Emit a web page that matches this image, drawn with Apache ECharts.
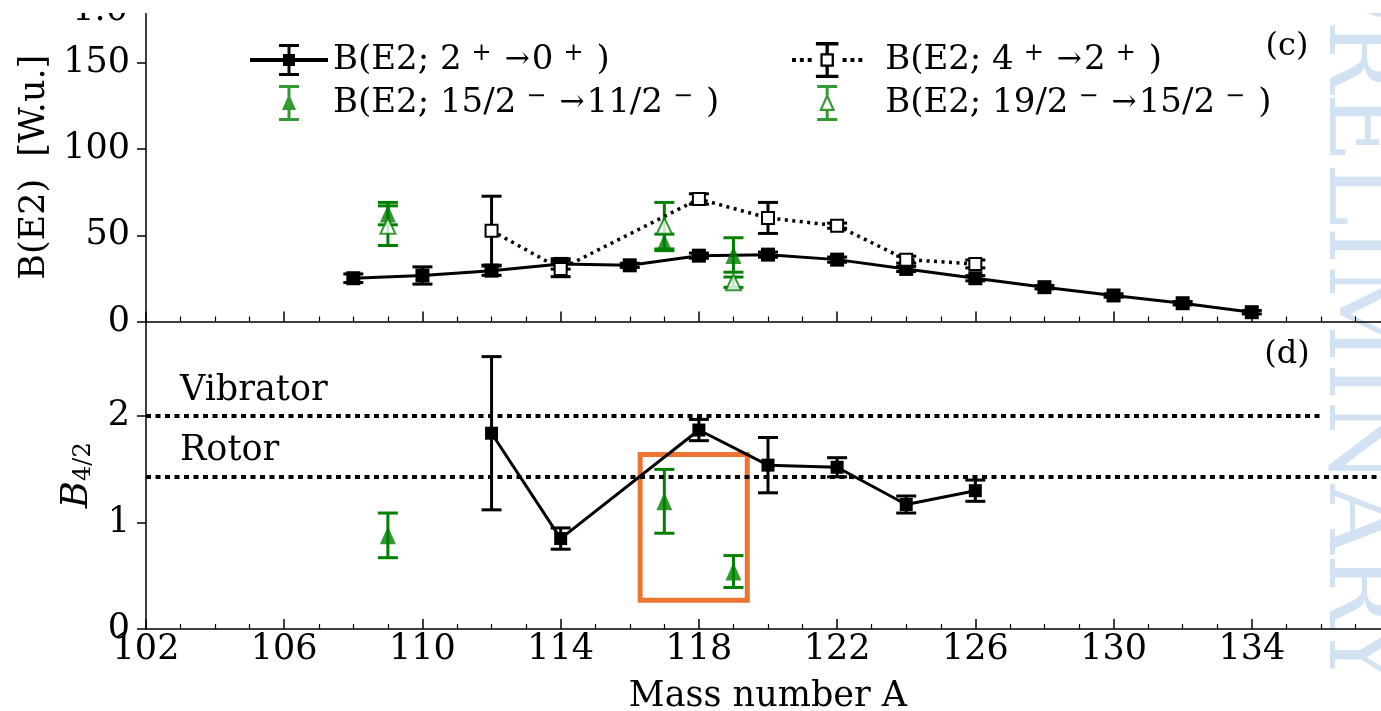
<!DOCTYPE html>
<html>
<head>
<meta charset="utf-8">
<title>B(E2) systematics</title>
<script src="https://cdn.jsdelivr.net/npm/echarts@6/dist/echarts.min.js"></script>
<style>
  html, body { margin: 0; padding: 0; background: #fff; }
  #chart { width: 1381px; height: 711px; }
</style>
</head>
<body>
<div id="chart"></div>
<script>
// mass numbers and values
var massEven = [108, 110, 112, 114, 116, 118, 120, 122, 124, 126, 128, 130, 132, 134];
var be2_2to0 = [25.1, 26.7, 29.5, 33.4, 32.6, 38.2, 38.8, 35.9, 30.5, 25.1, 19.9, 15.1, 10.6, 5.4];
var be2_2to0Err = [2.5, 5, 2.7, 3, 1.2, 1.5, 1.5, 1.5, 1.5, 1.5, 1, 1, 1, 1];

var massEven42 = [112, 114, 118, 120, 122, 124, 126];
var be2_4to2 = [52.7, 30.5, 71.1, 60.1, 55.6, 35.9, 33.4];
var be2_4to2Err = [20, 4.5, 3, 9, 1.5, 2, 2.3];

var massOdd = [109, 117, 119];
var be2_15to11 = [62.6, 45.9, 38.6];
var be2_15to11Err = [6.5, 4.8, 10];
var be2_19to15 = [55.6, 55.6, 22.8];
var be2_19to15Err = [11.5, 13.5, 3];

var b42Even = [1.84, 0.85, 1.87, 1.54, 1.52, 1.17, 1.30];
var b42EvenErr = [0.72, 0.1, 0.1, 0.26, 0.09, 0.08, 0.1];
var b42Odd = [0.88, 1.20, 0.54];
var b42OddErr = [0.21, 0.30, 0.15];

var vibrator = 2.0;
var rotor = 10 / 7;

var xTicks = { min: 102, max: 138, step: 4 };

var NAME_20 = 'B(E2; 2+ -> 0+)';
var NAME_42 = 'B(E2; 4+ -> 2+)';
var NAME_15 = 'B(E2; 15/2- -> 11/2-)';
var NAME_19 = 'B(E2; 19/2- -> 15/2-)';

var legendText = {};
legendText[NAME_20] = 'B(E2; 2{s|+}{a|→}0{s|+})';
legendText[NAME_42] = 'B(E2; 4{s|+}{a|→}2{s|+})';
legendText[NAME_15] = 'B(E2; 15/2{s|−}{a|→}11/2{s|−})';
legendText[NAME_19] = 'B(E2; 19/2{s|−}{a|→}15/2{s|−})';

var FONT = 'DejaVu Serif';
var GREEN = '#008000';
var FS = 35;

function pts(xs, ys) {
    return xs.map(function (x, i) { return [x, ys[i]]; });
}
function bars(xs, ys, es) {
    return xs.map(function (x, i) { return [x, ys[i] - es[i], ys[i] + es[i]]; });
}

function errorSeries(xs, ys, es, color, gi) {
    return {
        type: 'custom',
        xAxisIndex: gi, yAxisIndex: gi,
        z: 3,
        silent: true,
        data: bars(xs, ys, es),
        renderItem: function (params, api) {
            var lo = api.coord([api.value(0), api.value(1)]);
            var hi = api.coord([api.value(0), api.value(2)]);
            var st = { stroke: color, lineWidth: 3 };
            var hw = 10;
            return {
                type: 'group',
                children: [
                    { type: 'line', shape: { x1: lo[0], y1: lo[1], x2: hi[0], y2: hi[1] }, style: st },
                    { type: 'line', shape: { x1: lo[0] - hw, y1: lo[1], x2: lo[0] + hw, y2: lo[1] }, style: st },
                    { type: 'line', shape: { x1: hi[0] - hw, y1: hi[1], x2: hi[0] + hw, y2: hi[1] }, style: st }
                ]
            };
        }
    };
}

// legend icons built from filled pieces
function r(x, y, w, h) { return 'M' + x + ' ' + y + 'h' + w + 'v' + h + 'h' + (-w) + 'Z'; }
var iconSolid = 'path://' + r(0, 14, 78, 4) + r(37.5, 0, 3, 32) + r(29, 0, 20, 3) + r(29, 29, 20, 3) + r(33, 10, 12, 12);
var iconDotted = 'path://' + r(0, 14.25, 3.5, 3.5) + r(7, 14.25, 3.5, 3.5) + r(14, 14.25, 3.5, 3.5) +
    r(45, 14.25, 3.5, 3.5) + r(52, 14.25, 3.5, 3.5) + r(59, 14.25, 3.5, 3.5) +
    r(25.25, 10, 12, 2) + r(25.25, 20, 12, 2) + r(25.25, 10, 2, 12) + r(35.25, 10, 2, 12) +
    r(29.75, 0, 3, 10) + r(29.75, 22, 3, 10) + r(21.25, 0, 20, 3) + r(21.25, 29, 20, 3);
var iconTriFull = 'path://' + r(8.5, 0, 3, 36) + r(0, 0, 20, 3) + r(0, 33, 20, 3) + 'M10 9L17 25L3 25Z';
var iconTriOpen = 'path://' + r(8.5, 0, 3, 10) + r(8.5, 25, 3, 11) + r(0, 0, 20, 3) + r(0, 33, 20, 3) +
    'M10 8L18 26L2 26Z' + 'M10 13.5L5.3 23.8L14.7 23.8Z';

var legendRich = {
    s: { fontSize: 24, fontFamily: FONT, color: '#000', verticalAlign: 'top', lineHeight: 22, padding: [0, 13, 0, 10] },
    a: { fontSize: 30, fontFamily: FONT, color: '#000', padding: [0, 2, 0, 0] },
    g: { width: 14 }
};

function legendBase(left, prefix) {
    return {
        orient: 'vertical',
        left: left,
        top: 37,
        itemWidth: 78,
        itemHeight: 36,
        itemGap: 7,
        selectedMode: false,
        textStyle: { fontFamily: FONT, fontSize: 34, color: '#000', lineHeight: 36, rich: legendRich },
        formatter: function (name) { return prefix + legendText[name]; }
    };
}

var legendLeft = legendBase(245, '');
legendLeft.data = [
    { name: NAME_20, icon: iconSolid, itemStyle: { color: '#000', borderWidth: 0 } },
    { name: NAME_15, icon: iconTriFull, itemStyle: { color: GREEN, borderWidth: 0 } }
];
var legendRight = legendBase(787, '{g| }');
legendRight.data = [
    { name: NAME_42, icon: iconDotted, itemStyle: { color: '#000', borderWidth: 0 } },
    { name: NAME_19, icon: iconTriOpen, itemStyle: { color: GREEN, borderWidth: 0 } }
];

function xAxis(gi, labels) {
    return {
        type: 'value', gridIndex: gi,
        min: xTicks.min, max: xTicks.max, interval: xTicks.step,
        axisLine: { show: true, onZero: false, lineStyle: { color: '#000', width: 1.5 } },
        axisTick: { show: true, inside: true, length: 10, lineStyle: { color: '#000', width: 1.5 } },
        minorTick: { show: true, splitNumber: 4, length: 5, lineStyle: { color: '#000', width: 1.2 } },
        splitLine: { show: false },
        axisLabel: {
            show: labels, margin: 3, fontSize: FS, fontFamily: FONT, color: '#000',
            showMaxLabel: false
        },
        name: labels ? 'Mass number A' : '',
        nameLocation: 'middle', nameGap: 50,
        nameTextStyle: { fontSize: FS, fontFamily: FONT, color: '#000' }
    };
}

function yAxis(gi, max, step, name, gap) {
    return {
        type: 'value', gridIndex: gi,
        min: 0, max: max, interval: step,
        axisLine: { show: true, lineStyle: { color: '#000', width: 1.5 } },
        axisTick: { show: true, inside: false, length: 9, lineStyle: { color: '#000', width: 1.5 } },
        splitLine: { show: false },
        axisLabel: { margin: 16, fontSize: FS, fontFamily: FONT, color: '#000', showMaxLabel: false },
        name: name, nameLocation: 'middle', nameGap: gap,
        nameTextStyle: { fontSize: FS, fontFamily: FONT, color: '#000', rich: {
            b: { fontSize: 37, fontFamily: FONT, fontStyle: 'italic', color: '#000' },
            sub: { fontSize: 24, fontFamily: FONT, color: '#000', verticalAlign: 'bottom', lineHeight: 22 }
        } }
    };
}

var refLineStyle = { color: '#000', width: 4, type: [5, 4.5] };
var refLabel = {
    show: true, position: 'insideStartTop', distance: [34, 8],
    fontSize: FS, fontFamily: FONT, color: '#000'
};

var chart = echarts.init(document.getElementById('chart'));
chart.setOption({
    animation: false,
    backgroundColor: '#fff',
    textStyle: { fontFamily: FONT },
    grid: [
        { left: 146, right: -9, top: 13, height: 308.5, outerBoundsMode: 'none', containLabel: false },
        { left: 146, right: -9, top: 321.5, height: 307.5, outerBoundsMode: 'none', containLabel: false }
    ],
    xAxis: [xAxis(0, false), xAxis(1, true)],
    yAxis: [
        yAxis(0, 179, 50, 'B(E2)  [W.u.]', 88),
        yAxis(1, 2.89, 1, '{b|B}{sub|4/2}', 50)
    ],
    legend: [legendLeft, legendRight],
    graphic: [
        {
            type: 'text', x: 1355, y: 321, rotation: -Math.PI / 2, z: -10, silent: true,
            style: { text: 'PRELIMINARY', font: '96px "DejaVu Serif"', fill: '#d3e2f3', align: 'center', verticalAlign: 'middle' }
        },
        {
            type: 'text', x: 128, y: 11, silent: true,
            style: { text: '1.0', font: FS + 'px "DejaVu Serif"', fill: '#000', align: 'right', verticalAlign: 'middle' }
        },
        { type: 'rect', shape: { x: 0, y: 0, width: 1381, height: 13 }, style: { fill: '#fff' }, z: 50, silent: true },
        {
            type: 'text', x: 1287, y: 47, silent: true,
            style: { text: '(c)', font: '32px "DejaVu Serif"', fill: '#000', align: 'center', verticalAlign: 'middle' }
        },
        {
            type: 'text', x: 1287, y: 355, silent: true,
            style: { text: '(d)', font: '32px "DejaVu Serif"', fill: '#000', align: 'center', verticalAlign: 'middle' }
        }
    ],
    series: [
        errorSeries(massEven, be2_2to0, be2_2to0Err, '#000', 0),
        {
            name: NAME_20, type: 'line', xAxisIndex: 0, yAxisIndex: 0, z: 4,
            data: pts(massEven, be2_2to0),
            symbol: 'rect', symbolSize: 14,
            itemStyle: { color: '#000' },
            lineStyle: { color: '#000', width: 3 }
        },
        errorSeries(massEven42, be2_4to2, be2_4to2Err, '#000', 0),
        {
            name: NAME_42, type: 'line', xAxisIndex: 0, yAxisIndex: 0, z: 4,
            data: pts(massEven42, be2_4to2),
            symbol: 'rect', symbolSize: 12, showAllSymbol: true,
            itemStyle: { color: '#fff', borderColor: '#000', borderWidth: 2 },
            lineStyle: { color: '#000', width: 3.5, type: [3, 4.5] }
        },
        errorSeries(massOdd, be2_15to11, be2_15to11Err, GREEN, 0),
        {
            name: NAME_15, type: 'scatter', xAxisIndex: 0, yAxisIndex: 0, z: 4,
            data: pts(massOdd, be2_15to11),
            symbol: 'triangle', symbolSize: [16, 18],
            itemStyle: { color: GREEN }
        },
        errorSeries(massOdd, be2_19to15, be2_19to15Err, GREEN, 0),
        {
            name: NAME_19, type: 'scatter', xAxisIndex: 0, yAxisIndex: 0, z: 4,
            data: pts(massOdd, be2_19to15),
            symbol: 'triangle', symbolSize: [15, 16],
            itemStyle: { color: '#fff', borderColor: GREEN, borderWidth: 2 }
        },
        // lower panel
        errorSeries(massEven42, b42Even, b42EvenErr, '#000', 1),
        {
            name: 'B42 even', type: 'line', xAxisIndex: 1, yAxisIndex: 1, z: 4,
            data: pts(massEven42, b42Even),
            symbol: 'rect', symbolSize: 13,
            itemStyle: { color: '#000' },
            lineStyle: { color: '#000', width: 3 },
            markLine: {
                silent: true, symbol: ['none', 'none'],
                lineStyle: refLineStyle,
                data: [
                    [
                        { coord: [xTicks.min, vibrator], label: Object.assign({ formatter: 'Vibrator' }, refLabel) },
                        { coord: [136, vibrator] }
                    ],
                    { yAxis: rotor, label: Object.assign({ formatter: 'Rotor' }, refLabel) }
                ]
            }
        },
        errorSeries(massOdd, b42Odd, b42OddErr, GREEN, 1),
        {
            name: 'B42 odd', type: 'scatter', xAxisIndex: 1, yAxisIndex: 1, z: 4,
            data: pts(massOdd, b42Odd),
            symbol: 'triangle', symbolSize: [16, 18],
            itemStyle: { color: GREEN },
            markArea: {
                silent: true,
                itemStyle: { color: 'rgba(0,0,0,0)', borderColor: '#ec7433', borderWidth: 5 },
                data: [[{ coord: [116.3, 1.64] }, { coord: [119.4, 0.27] }]]
            }
        }
    ]
});
</script>
</body>
</html>
